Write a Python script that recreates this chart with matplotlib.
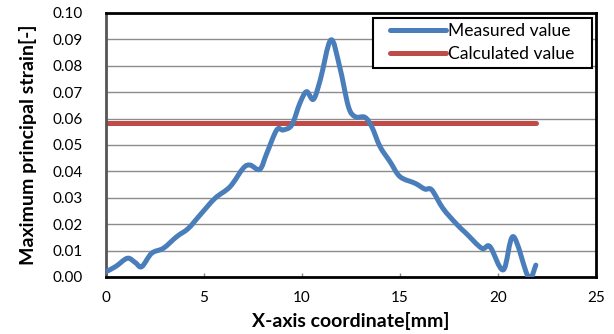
import matplotlib
matplotlib.use("Agg")
import matplotlib.pyplot as plt
from matplotlib.path import Path
from matplotlib.patches import PathPatch, Rectangle
from matplotlib.lines import Line2D

plt.rcParams['font.family'] = ['Lato', 'DejaVu Sans']

x_measured = [0.0, 0.5, 1.09, 1.49, 1.82, 2.33, 2.93, 3.61, 4.2, 4.8, 5.56, 6.33, 7.0, 7.35, 7.85,
              8.2, 8.71, 9.04, 9.48, 9.89, 10.23, 10.58, 10.93, 11.47, 11.92, 12.37, 12.72, 13.21,
              13.56, 13.98, 14.49, 15.0, 15.77, 16.27, 16.62, 17.19, 17.88, 18.38, 19.17, 19.59,
              20.27, 20.78, 21.55, 21.93]
y_measured = [0.002, 0.004, 0.0071, 0.0055, 0.0039, 0.009, 0.0109, 0.0153, 0.0184, 0.0235, 0.0298,
              0.0342, 0.0412, 0.0424, 0.0408, 0.0468, 0.0557, 0.0557, 0.0576, 0.0658, 0.0702,
              0.0673, 0.0746, 0.0898, 0.0797, 0.0645, 0.0607, 0.0605, 0.0569, 0.0494, 0.0437,
              0.038, 0.0355, 0.0333, 0.033, 0.026, 0.0201, 0.0165, 0.0109, 0.0115, 0.0027,
              0.0153, 0.0, 0.0045]
x_calculated = [0.0, 21.93]
y_calculated = [0.0585, 0.0585]

x_ticks = [0, 5, 10, 15, 20, 25]
y_ticks = [0.00, 0.01, 0.02, 0.03, 0.04, 0.05, 0.06, 0.07, 0.08, 0.09, 0.10]

BLUE = '#4a7ebb'
RED = '#be4b48'


def smooth_path(xs, ys):
    """Excel-style smoothed line: Catmull-Rom segments expressed as cubic Bezier curves."""
    pts = list(zip(xs, ys))
    n = len(pts)
    verts = [pts[0]]
    codes = [Path.MOVETO]
    for i in range(n - 1):
        p0 = pts[i - 1] if i > 0 else pts[i]
        p1 = pts[i]
        p2 = pts[i + 1]
        p3 = pts[i + 2] if i + 2 < n else pts[i + 1]
        c1 = (p1[0] + (p2[0] - p0[0]) / 6, p1[1] + (p2[1] - p0[1]) / 6)
        c2 = (p2[0] - (p3[0] - p1[0]) / 6, p2[1] - (p3[1] - p1[1]) / 6)
        verts += [c1, c2, p2]
        codes += [Path.CURVE4] * 3
    return Path(verts, codes)


fig = plt.figure(figsize=(6.14, 3.34), dpi=100)
ax = fig.add_axes([106/614, 1-277/334, (596-106)/614, (277-13)/334])

ax.add_patch(PathPatch(smooth_path(x_measured, y_measured), fill=False, edgecolor=BLUE,
                       lw=3.6, capstyle='round', joinstyle='round', zorder=3,
                       transform=ax.transData))
ax.plot(x_calculated, y_calculated, color=RED, lw=3.6, solid_capstyle='round', zorder=2)

ax.set_xlim(0, 25)
ax.set_ylim(0, 0.10)
ax.set_xticks(x_ticks)
ax.set_yticks(y_ticks)
ax.set_xticklabels([str(t) for t in x_ticks])
ax.set_yticklabels([f"{t:.2f}" for t in y_ticks])
ax.tick_params(axis='both', labelsize=11, colors='black')
ax.tick_params(axis='x', direction='in', length=3, width=1, color='#888888', pad=10)
ax.tick_params(axis='y', length=0, pad=17)
ax.grid(axis='y', color='#8c8c8c', lw=1)
ax.set_axisbelow(True)

for s in ['top', 'right', 'bottom']:
    ax.spines[s].set_color('black')
    ax.spines[s].set_linewidth(2)
ax.spines['left'].set_color('#555555')
ax.spines['left'].set_linewidth(2)

ax.set_xlabel('X-axis coordinate[mm]', fontsize=14, fontweight='bold', labelpad=5)
ax.set_ylabel('Maximum principal strain[-]', fontsize=14, fontweight='bold')
ax.yaxis.set_label_coords(-0.141, 0.5)

handles = [Line2D([], [], color=BLUE, lw=3.6, solid_capstyle='round'),
           Line2D([], [], color=RED, lw=3.6, solid_capstyle='round')]
leg = ax.legend(handles, ['Measured value', 'Calculated value'], loc='upper right',
                bbox_to_anchor=(1 - 16/490, 1 - 5/264), fontsize=12.6, frameon=False,
                handlelength=3.2, handletextpad=0.15, borderpad=0.3, labelspacing=0.4,
                borderaxespad=0)
leg.set_zorder(5)

# Excel-style legend box with wider side margins than top/bottom
fig.canvas.draw()
bb = leg.get_window_extent().transformed(fig.transFigure.inverted())
padx = 12 / 614
box = Rectangle((bb.x0 - padx, bb.y0), bb.width + 2 * padx, bb.height,
                transform=fig.transFigure, facecolor='white', edgecolor='black',
                lw=1.5, zorder=4, clip_on=False)
ax.add_artist(box)

fig.savefig('out.png', dpi=100)
